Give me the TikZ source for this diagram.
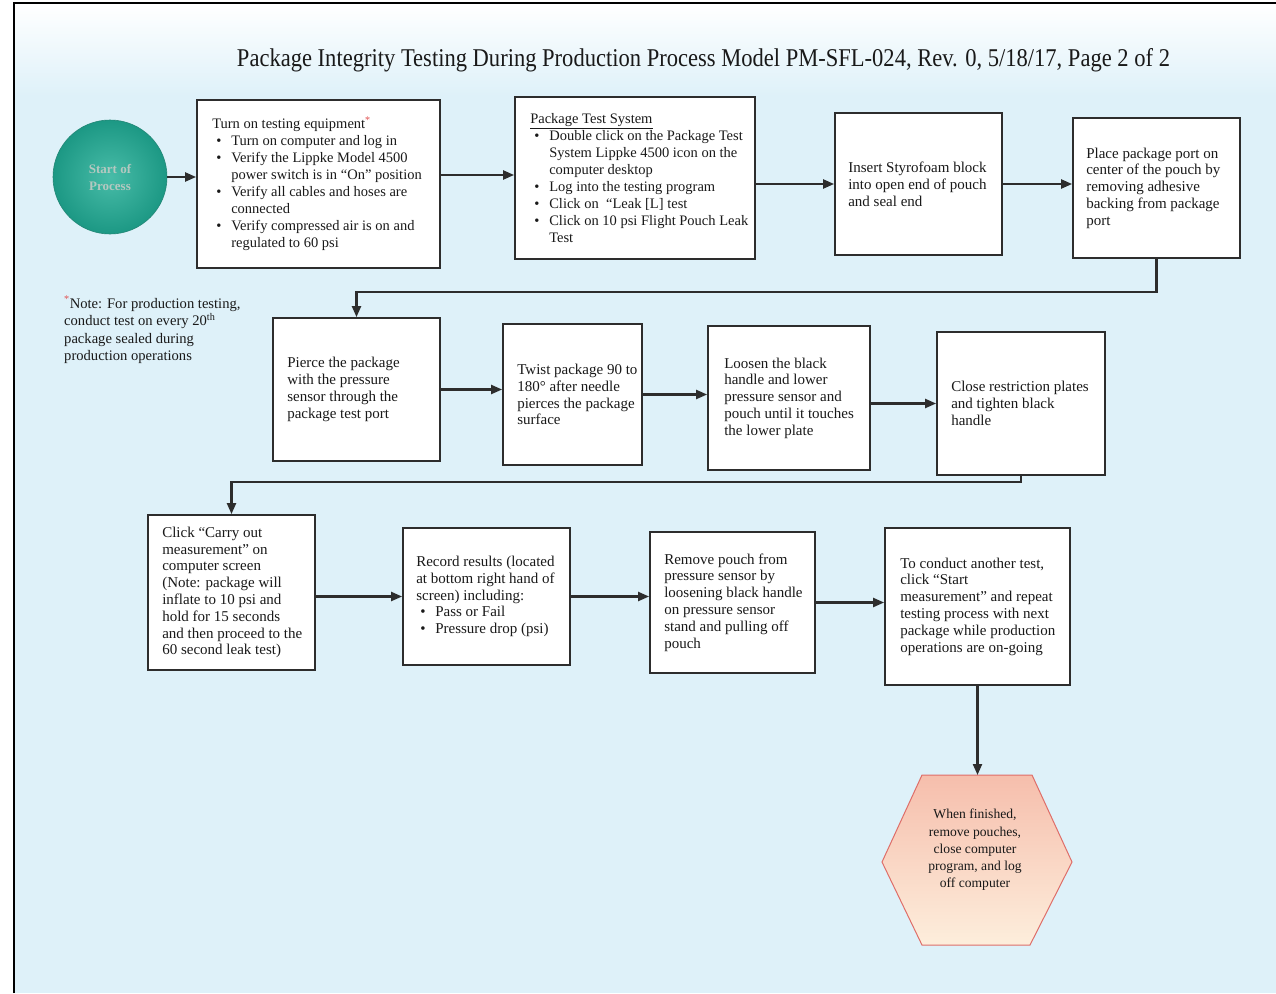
\documentclass[tikz,border=0pt]{standalone}
\usepackage{fontspec}
\setmainfont{Liberation Serif}
\usepackage{graphicx}
\usetikzlibrary{arrows.meta,calc}
\definecolor{bgblue}{RGB}{222,241,249}
\definecolor{linecol}{RGB}{45,45,45}
\definecolor{txtcol}{RGB}{25,25,25}
\definecolor{astred}{RGB}{225,80,80}
\definecolor{tealin}{RGB}{72,188,168}
\definecolor{tealout}{RGB}{28,152,132}
\definecolor{tealedge}{RGB}{35,135,118}
\definecolor{starttxt}{RGB}{180,200,192}
\definecolor{hexfilltop}{RGB}{246,190,172}
\definecolor{hexfillbot}{RGB}{253,238,220}
\definecolor{hexedge}{RGB}{222,110,105}
\newcommand\bitem[1]{\hspace*{4pt}\makebox[15pt][l]{\textbullet}#1}
\newcommand\bcont{\hspace*{19pt}}
\begin{document}
\begin{tikzpicture}[x=1pt,y=-1pt,
  box/.style={draw=linecol, line width=1.8pt, fill=white, inner sep=0pt},
  txt/.style={anchor=west, align=left, inner sep=0pt, text=txtcol, font=\fontsize{15}{16.8}\selectfont},
  btxt/.style={txt, font=\fontsize{14.5}{17}\selectfont},
  arr/.style={draw=linecol, line width=2.2pt, -{Triangle[length=11pt,width=9pt]}}]
\useasboundingbox (0,0) rectangle (1276,993);
% background
\fill[white] (0,0) rectangle (1276,993);
\fill[bgblue] (15,95) rectangle (1276,993);
\shade[top color=white, bottom color=bgblue] (15,4) rectangle (1276,96);
\draw[black, line width=2pt] (14,993) -- (14,3) -- (1276,3);
% title
\node[anchor=base, inner sep=0pt, text=txtcol] (title) at (703.5,66)
  {\resizebox{933pt}{18pt}{\fontsize{20}{24}\selectfont Package Integrity Testing During Production Process Model PM-SFL-024, Rev. 0, 5/18/17, Page 2 of 2}};
% start
\node[circle, draw=tealedge, line width=0.6pt, inner color=tealin, outer color=tealout,
  minimum size=114pt, inner sep=0pt, align=center, text=starttxt,
  font=\fontsize{13}{17}\selectfont\bfseries] (start) at (110,177) {Start of\\Process};
% row 1
\node[box, minimum width=243pt, minimum height=168pt] (b1) at (318.5,184) {};
\node[btxt] (t1) at ([xshift=16pt]b1.west) {Turn on testing equipment\textsuperscript{\color{astred}*}\\
\bitem{Turn on computer and log in}\\
\bitem{Verify the Lippke Model 4500}\\
\bcont power switch is in “On” position\\
\bitem{Verify all cables and hoses are}\\
\bcont connected\\
\bitem{Verify compressed air is on and}\\
\bcont regulated to 60 psi};
\node[box, minimum width=240pt, minimum height=162pt] (b2) at (635,178) {};
\node[btxt] (t2) at ([xshift=16pt]b2.west) {\underline{Package Test System}\\
\bitem{Double click on the Package Test}\\
\bcont System Lippke 4500 icon on the\\
\bcont computer desktop\\
\bitem{Log into the testing program}\\
\bitem{Click on \ “Leak [L] test}\\
\bitem{Click on 10 psi Flight Pouch Leak}\\
\bcont Test};
\node[box, minimum width=167pt, minimum height=142pt] (b3) at (918.5,184) {};
\node[txt] (t3) at ([xshift=14pt]b3.west) {Insert Styrofoam block\\into open end of pouch\\and seal end};
\node[box, minimum width=167pt, minimum height=140pt] (b4) at (1156.5,188) {};
\node[txt] (t4) at ([xshift=14pt]b4.west) {Place package port on\\center of the pouch by\\removing adhesive\\backing from package\\port};
% note
\node[anchor=north west, align=left, inner sep=0pt, text=txtcol, font=\fontsize{14.6}{17.6}\selectfont] (note) at (64,296)
  {\textsuperscript{\color{astred}*}Note: For production testing,\\conduct test on every 20\textsuperscript{th}\\package sealed during\\production operations};
% row 2
\node[box, minimum width=167pt, minimum height=143pt] (b5) at (356.5,389.5) {};
\node[txt] (t5) at ([xshift=15pt]b5.west) {Pierce the package\\with the pressure\\sensor through the\\package test port};
\node[box, minimum width=139pt, minimum height=141pt] (b6) at (572.5,394.5) {};
\node[txt] (t6) at ([xshift=15pt]b6.west) {Twist package 90 to\\180° after needle\\pierces the package\\surface};
\node[box, minimum width=162pt, minimum height=144pt] (b7) at (789,398) {};
\node[txt] (t7) at ([xshift=17pt]b7.west) {Loosen the black\\handle and lower\\pressure sensor and\\pouch until it touches\\the lower plate};
\node[box, minimum width=168pt, minimum height=143pt] (b8) at (1021,403.5) {};
\node[txt] (t8) at ([xshift=15pt]b8.west) {Close restriction plates\\and tighten black\\handle};
% row 3
\node[box, minimum width=167pt, minimum height=155pt] (b9) at (231.5,592.5) {};
\node[txt] (t9) at ([xshift=15pt]b9.west) {Click “Carry out\\measurement” on\\computer screen\\(Note: package will\\inflate to 10 psi and\\hold for 15 seconds\\and then proceed to the\\60 second leak test)};
\node[box, minimum width=167pt, minimum height=137pt] (b10) at (486.5,596.5) {};
\node[txt] (t10) at ([xshift=14pt]b10.west) {Record results (located\\at bottom right hand of\\screen) including:\\
\bitem{Pass or Fail}\\
\bitem{Pressure drop (psi)}};
\node[box, minimum width=165pt, minimum height=141pt] (b11) at (732.5,602.5) {};
\node[txt] (t11) at ([xshift=15pt]b11.west) {Remove pouch from\\pressure sensor by\\loosening black handle\\on pressure sensor\\stand and pulling off\\pouch};
\node[box, minimum width=185pt, minimum height=157pt] (b12) at (977.5,606.5) {};
\node[txt] (t12) at ([xshift=16pt]b12.west) {To conduct another test,\\click “Start\\measurement” and repeat\\testing process with next\\package while production\\operations are on-going};
% end hexagon
\coordinate (h1) at (922,775);
\coordinate (h2) at (1032,775);
\coordinate (h3) at (1072,862);
\coordinate (h4) at (1030,945);
\coordinate (h5) at (922,945);
\coordinate (h6) at (882,862);
\coordinate (hextop) at (977.5,775);
\shadedraw[draw=hexedge, line width=1pt, top color=hexfilltop, bottom color=hexfillbot]
  (h1) -- (h2) -- (h3) -- (h4) -- (h5) -- (h6) -- cycle;
\node[align=center, inner sep=0pt, text=txtcol, font=\fontsize{13.6}{17.3}\selectfont] (hex) at (975,850)
  {When finished,\\remove pouches,\\close computer\\program, and log\\off computer};
% connectors
\draw[arr] (start.east) -- (start.east -| b1.west);
\draw[arr] ([yshift=9pt]b1.east) -- ([yshift=9pt]b1.east -| b2.west);
\draw[arr] (b2.east |- b3.west) -- (b3.west);
\draw[arr] (b3.east) -- (b3.east -| b4.west);
\draw[arr] (b4.south) -- (b4.south |- 0,292) -| (b5.north);
\draw[arr] (b5.east) -- (b5.east -| b6.west);
\draw[arr] (b6.east) -- (b6.east -| b7.west);
\draw[arr] (b7.east |- b8.west) -- (b8.west);
\draw[arr] (b8.south) -- (b8.south |- 0,482) -| (b9.north);
\draw[arr] (b9.east |- b10.west) -- (b10.west);
\draw[arr] (b10.east) -- (b10.east -| b11.west);
\draw[arr] (b11.east) -- (b11.east -| b12.west);
\draw[arr] (b12.south) -- (hextop);
\end{tikzpicture}
\end{document}
